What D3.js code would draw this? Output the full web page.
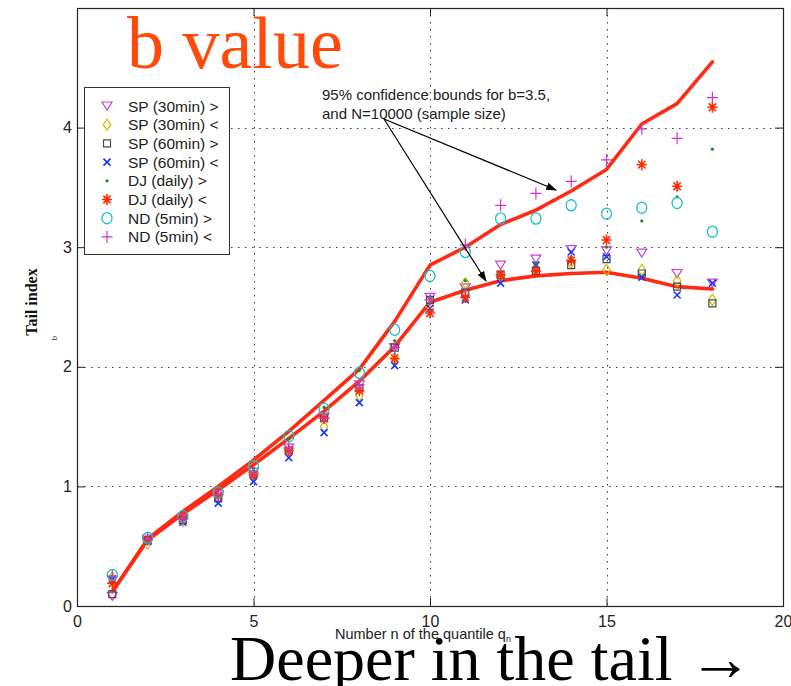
<!DOCTYPE html>
<html>
<head>
<meta charset="utf-8">
<script src="https://cdn.jsdelivr.net/npm/d3@7"></script>
<style>
  html, body { margin: 0; padding: 0; background: #fff; }
  svg { display: block; }
</style>
</head>
<body>
<svg id="chart" width="791" height="686"></svg>
<script>
// Quantile number n (x axis)
const quantiles = [1, 2, 3, 4, 5, 6, 7, 8, 9, 10, 11, 12, 13, 14, 15, 16, 17, 18];

// 95% confidence bounds for b = 3.5, N = 10000
const upperBound = [0.12, 0.56, 0.79, 1.0, 1.22, 1.46, 1.72, 1.98, 2.38, 2.85, 3.0, 3.19, 3.31, 3.47, 3.65, 4.03, 4.2, 4.55];
const lowerBound = [0.12, 0.55, 0.77, 0.97, 1.18, 1.4, 1.63, 1.88, 2.17, 2.54, 2.64, 2.72, 2.76, 2.78, 2.79, 2.74, 2.67, 2.65];

// Estimated tail index per series
const sp30Upper = [0.08, 0.56, 0.73, 0.93, 1.12, 1.32, 1.58, 1.85, 2.16, 2.58, 2.66, 2.85, 2.9, 2.98, 2.97, 2.95, 2.78, 2.7];
const sp30Lower = [0.24, 0.52, 0.71, 0.9, 1.08, 1.28, 1.5, 1.76, 2.07, 2.5, 2.7, 2.75, 2.83, 2.87, 2.81, 2.81, 2.72, 2.56];
const sp60Upper = [0.1, 0.55, 0.72, 0.9, 1.1, 1.3, 1.57, 1.82, 2.16, 2.56, 2.62, 2.77, 2.8, 2.85, 2.9, 2.78, 2.67, 2.53];
const sp60Lower = [0.22, 0.54, 0.7, 0.86, 1.04, 1.24, 1.45, 1.7, 2.01, 2.49, 2.56, 2.7, 2.85, 2.96, 2.92, 2.75, 2.6, 2.7];
const djUpper   = [0.25, 0.56, 0.74, 0.93, 1.15, 1.4, 1.66, 1.97, 2.22, 2.58, 2.72, 2.78, 2.87, 2.92, 3.0, 3.22, 3.42, 3.82];
const djLower   = [0.19, 0.55, 0.73, 0.92, 1.1, 1.3, 1.57, 1.8, 2.07, 2.45, 2.58, 2.77, 2.8, 2.89, 3.06, 3.69, 3.51, 4.17];
const ndUpper   = [0.26, 0.57, 0.75, 0.95, 1.17, 1.42, 1.65, 1.95, 2.31, 2.76, 2.96, 3.24, 3.24, 3.35, 3.28, 3.33, 3.37, 3.13];
const ndLower   = [0.25, 0.56, 0.73, 0.93, 1.12, 1.32, 1.57, 1.85, 2.16, 2.56, 3.02, 3.35, 3.45, 3.55, 3.73, 3.99, 3.91, 4.25];

const seriesNames = ["SP (30min) >", "SP (30min) <", "SP (60min) >", "SP (60min) <",
                     "DJ (daily) >", "DJ (daily) <", "ND (5min) >", "ND (5min) <"];
const seriesValues = [sp30Upper, sp30Lower, sp60Upper, sp60Lower, djUpper, djLower, ndUpper, ndLower];
const seriesMarkers = ["triangleDown", "diamond", "square", "cross", "dot", "asterisk", "circle", "plus"];
const seriesColors = ["#c844d0", "#c8c000", "#4a4a4a", "#1838ff", "#1e8a1e", "#ff2a00", "#1cc0c8", "#c838d0"];

const xTicks = [0, 5, 10, 15, 20];
const yTicks = [0, 1, 2, 3, 4];

const svg = d3.select("#chart");
const plotLeft = 77, plotRight = 783, plotTop = 8, plotBottom = 606;
const x = d3.scaleLinear().domain([0, 20]).range([plotLeft, plotRight]);
const y = d3.scaleLinear().domain([0, 5]).range([plotBottom, plotTop]);
const sans = "Arial, 'Liberation Sans', sans-serif";
const serif = "'Liberation Serif', 'Times New Roman', serif";

// Dotted grid
const grid = svg.append("g").attr("stroke", "#444").attr("stroke-width", 1.1)
  .attr("stroke-dasharray", "1.6,5.4");
grid.selectAll(".gx").data([5, 10, 15]).join("line")
  .attr("x1", d => Math.round(x(d)) + 0.5).attr("x2", d => Math.round(x(d)) + 0.5)
  .attr("y1", plotTop).attr("y2", plotBottom);
grid.selectAll(".gy").data([1, 2, 3, 4]).join("line")
  .attr("y1", d => Math.round(y(d)) + 0.5).attr("y2", d => Math.round(y(d)) + 0.5)
  .attr("x1", plotLeft).attr("x2", plotRight);

// Axes with inward ticks
const fmt = d3.format("d");
const axisBottom = svg.append("g").attr("transform", `translate(0,${plotBottom})`)
  .call(d3.axisBottom(x).tickValues(xTicks).tickFormat(fmt).tickSizeInner(-8).tickSizeOuter(0).tickPadding(10));
const axisLeft = svg.append("g").attr("transform", `translate(${plotLeft},0)`)
  .call(d3.axisLeft(y).tickValues(yTicks).tickFormat(fmt).tickSizeInner(-8).tickSizeOuter(0).tickPadding(5));
svg.append("g").attr("transform", `translate(0,${plotTop})`)
  .call(d3.axisTop(x).tickValues(xTicks).tickSizeInner(-8).tickSizeOuter(0).tickFormat(""));
svg.append("g").attr("transform", `translate(${plotRight},0)`)
  .call(d3.axisRight(y).tickValues(yTicks).tickSizeInner(-8).tickSizeOuter(0).tickFormat(""));
svg.selectAll(".domain").remove();
svg.selectAll(".tick line").attr("stroke", "#222");
[axisBottom, axisLeft].forEach(a => a.selectAll("text")
  .attr("font-family", sans).attr("font-size", 16).attr("fill", "#222"));

// Frame
svg.append("rect").attr("x", plotLeft + 0.5).attr("y", plotTop + 0.5)
  .attr("width", plotRight - plotLeft).attr("height", plotBottom - plotTop)
  .attr("fill", "none").attr("stroke", "#222").attr("stroke-width", 1.2);

// Confidence bound curves
const line = d3.line().x((d, i) => x(quantiles[i])).y(d => y(d));
[upperBound, lowerBound].forEach(b => {
  svg.append("path").datum(b).attr("d", line)
    .attr("fill", "none").attr("stroke", "#ff2a14").attr("stroke-width", 3.6)
    .attr("stroke-linejoin", "round").attr("stroke-linecap", "round");
});

// Marker shapes
function marker(g, type, color) {
  const s = { fill: "none", stroke: color, "stroke-width": 1.2 };
  const p = (d) => { const e = g.append("path").attr("d", d); Object.entries(s).forEach(([k, v]) => e.attr(k, v)); return e; };
  switch (type) {
    case "triangleDown": p("M-5,-4L5,-4L0,4Z"); break;
    case "diamond": p("M0,-5.5L3.8,0L0,5.5L-3.8,0Z"); break;
    case "square": p("M-3.5,-3.5H3.5V3.5H-3.5Z"); break;
    case "cross": p("M-3.5,-3.5L3.5,3.5M3.5,-3.5L-3.5,3.5").attr("stroke-width", 1.6); break;
    case "dot": g.append("circle").attr("r", 1.6).attr("fill", color); break;
    case "asterisk": p("M-5,0H5M0,-5.5V5.5M-3.6,-3.9L3.6,3.9M3.6,-3.9L-3.6,3.9").attr("stroke-width", 1.6); break;
    case "circle": g.append("ellipse").attr("rx", 5).attr("ry", 5.6)
      .attr("fill", "none").attr("stroke", color).attr("stroke-width", 1.3); break;
    case "plus": p("M-5.5,0H5.5M0,-6V6"); break;
  }
}

// Data markers
seriesValues.forEach((vals, si) => {
  const g = svg.append("g").attr("class", "series");
  vals.forEach((v, i) => {
    const m = g.append("g").attr("transform", `translate(${x(quantiles[i])},${y(v)})`);
    marker(m, seriesMarkers[si], seriesColors[si]);
  });
});

// Legend
const legend = svg.append("g");
legend.append("rect").attr("x", 84.5).attr("y", 87.5).attr("width", 145).attr("height", 167)
  .attr("fill", "#fff").attr("stroke", "#333").attr("stroke-width", 1);
seriesNames.forEach((name, i) => {
  const yy = 106 + i * 18.7;
  const m = legend.append("g").attr("transform", `translate(107,${yy})`);
  marker(m, seriesMarkers[i], seriesColors[i]);
  legend.append("text").attr("x", 128).attr("y", yy + 5.5).text(name)
    .attr("font-family", sans).attr("font-size", 15.5).attr("fill", "#222");
});

// Annotation with arrows
const ann = svg.append("g").attr("font-family", sans)
  .attr("font-size", 15).attr("fill", "#222");
ann.append("text").attr("x", 322).attr("y", 100).text("95% confidence bounds for b=3.5,");
ann.append("text").attr("x", 322).attr("y", 119).text("and N=10000 (sample size)");
svg.append("defs").append("marker").attr("id", "arrowHead")
  .attr("viewBox", "0 0 10 10").attr("refX", 9).attr("refY", 5)
  .attr("markerWidth", 9).attr("markerHeight", 9).attr("orient", "auto")
  .append("path").attr("d", "M0,1.5L10,5L0,8.5Z").attr("fill", "#000");
[[384, 119, 556, 190], [384, 119, 486, 281]].forEach(([x1, y1, x2, y2]) => {
  svg.append("line").attr("x1", x1).attr("y1", y1).attr("x2", x2).attr("y2", y2)
    .attr("stroke", "#000").attr("stroke-width", 1.2).attr("marker-end", "url(#arrowHead)");
});

// Axis titles
svg.append("text").attr("transform", "translate(37,302) rotate(-90)").attr("text-anchor", "middle")
  .attr("font-family", serif).attr("font-weight", "bold")
  .attr("font-size", 16).attr("fill", "#111").text("Tail index");
svg.append("text").attr("transform", "translate(57,338) rotate(-90)").attr("text-anchor", "middle")
  .attr("font-family", sans).attr("font-size", 8).attr("fill", "#333").text("b");
const xt = svg.append("text").attr("x", 335).attr("y", 639)
  .attr("font-family", sans).attr("font-size", 14.5).attr("fill", "#222");
xt.append("tspan").text("Number n of the quantile q");
xt.append("tspan").attr("font-size", 9).attr("dy", 3).text("n");

// Slide captions
svg.append("text").attr("x", 127).attr("y", 68)
  .attr("font-family", serif).attr("font-size", 74)
  .attr("fill", "#ff4a0a").text("b value");
svg.append("text").attr("x", 230).attr("y", 680)
  .attr("font-family", serif).attr("font-size", 64)
  .attr("fill", "#000").text("Deeper in the tail →");
</script>
</body>
</html>
